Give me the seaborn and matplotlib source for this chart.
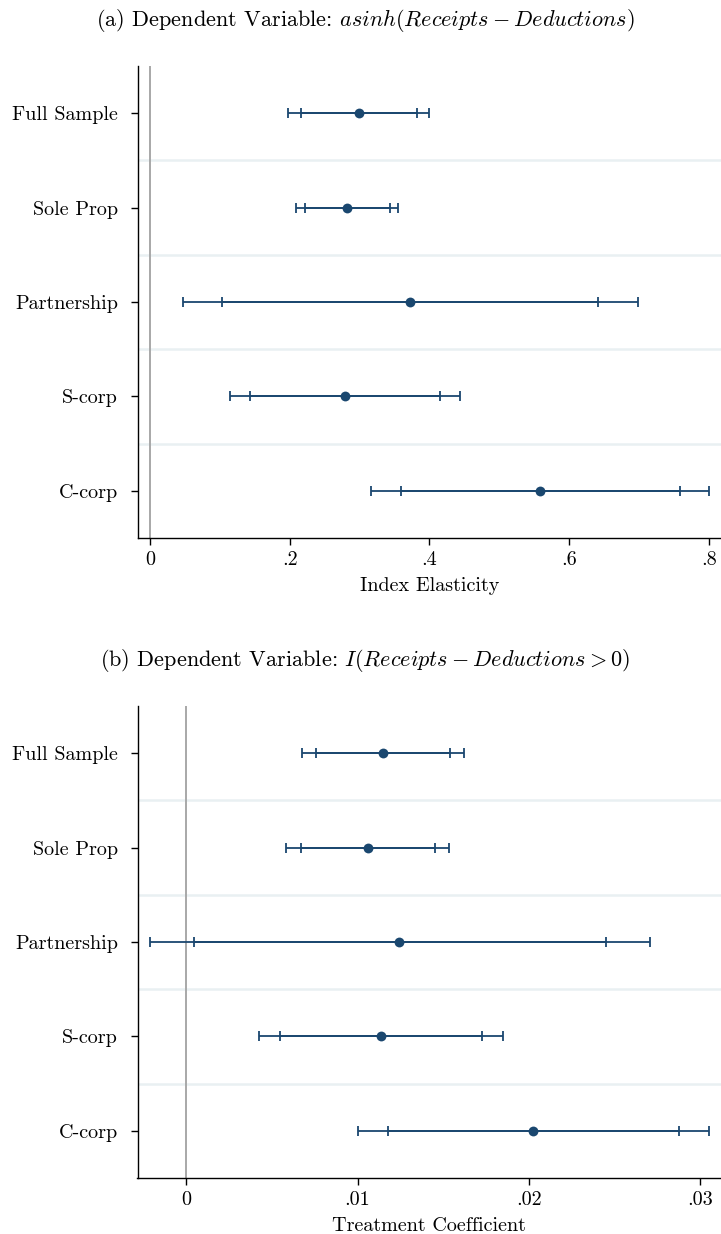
import numpy as np
import pandas as pd
import matplotlib
matplotlib.use("Agg")
import matplotlib.pyplot as plt
import seaborn as sns

# ---- data ----
categories = ["Full Sample", "Sole Prop", "Partnership", "S-corp", "C-corp"]

a_point = [0.299, 0.2815, 0.372, 0.279, 0.559]
a_lo95 = [0.198, 0.2086, 0.0465, 0.114, 0.317]
a_hi95 = [0.399, 0.3556, 0.698, 0.444, 0.801]
a_lo90 = [0.2157, 0.222, 0.103, 0.1427, 0.359]
a_hi90 = [0.382, 0.343, 0.641, 0.4155, 0.759]
a_ticks = [0, 0.2, 0.4, 0.6, 0.8]
a_ticklabels = ["0", ".2", ".4", ".6", ".8"]

b_point = [0.01147, 0.01059, 0.01244, 0.01134, 0.02025]
b_lo95 = [0.00676, 0.00583, -0.00211, 0.00425, 0.01002]
b_hi95 = [0.0162, 0.01534, 0.02703, 0.01847, 0.03051]
b_lo90 = [0.00757, 0.00667, 0.00044, 0.00548, 0.01178]
b_hi90 = [0.01539, 0.01453, 0.02448, 0.01724, 0.02873]
b_ticks = [0, 0.01, 0.02, 0.03]
b_ticklabels = ["0", ".01", ".02", ".03"]

title_a = r"(a) Dependent Variable: $asinh(Receipts - Deductions)$"
title_b = r"(b) Dependent Variable: $I(Receipts - Deductions > 0)$"
xlabel_a = "Index Elasticity"
xlabel_b = "Treatment Coefficient"

# ---- style ----
sns.set_theme(style="white")
plt.rcParams["font.family"] = ["cmr10", "DejaVu Serif"]
plt.rcParams["mathtext.fontset"] = "cm"
plt.rcParams["axes.formatter.use_mathtext"] = True
plt.rcParams["text.color"] = "black"
plt.rcParams["xtick.color"] = "black"
plt.rcParams["ytick.color"] = "black"
plt.rcParams["axes.labelcolor"] = "black"

NAVY = "#1a476f"
SEP = "#e9f0f2"
ZERO = "#a8a8a8"
FS = 14.5

fig = plt.figure(figsize=(7.21, 12.34), dpi=100)
W, H = 721, 1234


def panel(rect, point, lo95, hi95, lo90, hi90, ticks, ticklabels, xlim, xlabel):
    ax = fig.add_axes(rect)
    df = pd.DataFrame({"cat": categories, "pos": np.arange(len(categories)),
                       "est": point, "lo95": lo95, "hi95": hi95,
                       "lo90": lo90, "hi90": hi90})
    # separators
    for k in range(len(categories) - 1):
        ax.axhline(k + 0.5, color=SEP, lw=1.8, zorder=0)
    ax.axvline(0, color=ZERO, lw=1.4, zorder=1)
    est = df["est"].to_numpy()
    ax.errorbar(est, df["pos"], xerr=[est - df["lo95"], df["hi95"] - est],
                fmt="none", ecolor=NAVY, elinewidth=1.3, capsize=3.8,
                capthick=1.3, zorder=2)
    ax.errorbar(est, df["pos"], xerr=[est - df["lo90"], df["hi90"] - est],
                fmt="none", ecolor=NAVY, elinewidth=1.3, capsize=3.8,
                capthick=1.3, zorder=2)
    sns.scatterplot(data=df, x="est", y="pos", ax=ax, color=NAVY, s=50,
                    edgecolor=NAVY, linewidth=0, zorder=3, legend=False)
    ax.set_ylim(len(categories) - 0.5, -0.5)
    ax.set_xlim(*xlim)
    ax.set_yticks(df["pos"])
    ax.set_yticklabels(categories, fontsize=FS)
    ax.set_xticks(ticks)
    ax.set_xticklabels(ticklabels, fontsize=FS)
    ax.set_xlabel(xlabel, fontsize=FS, labelpad=6)
    ax.set_ylabel("")
    for s in ["top", "right"]:
        ax.spines[s].set_visible(False)
    for s in ["left", "bottom"]:
        ax.spines[s].set_color("black")
        ax.spines[s].set_linewidth(1.0)
    ax.tick_params(axis="both", which="both", direction="out", length=5,
                   width=1.0, color="black", left=True, bottom=True)
    ax.tick_params(axis="y", pad=9)
    ax.tick_params(axis="x", pad=4.5)
    return ax


left = 137.5 / W
width = 1.0 - left
ax1 = panel([left, 1 - 538 / H, width, (538 - 66) / H], a_point, a_lo95, a_hi95,
            a_lo90, a_hi90, a_ticks, a_ticklabels, (-0.018, 0.8175), xlabel_a)
ax2 = panel([left, 1 - 1178 / H, width, (1178 - 706) / H], b_point, b_lo95, b_hi95,
            b_lo90, b_hi90, b_ticks, b_ticklabels, (-0.00284, 0.0312), xlabel_b)

fig.text(365 / W, 1 - 20 / H, title_a, ha="center", va="center", fontsize=16)
fig.text(365 / W, 1 - 661 / H, title_b, ha="center", va="center", fontsize=16)

fig.savefig("out.png", dpi=100)
